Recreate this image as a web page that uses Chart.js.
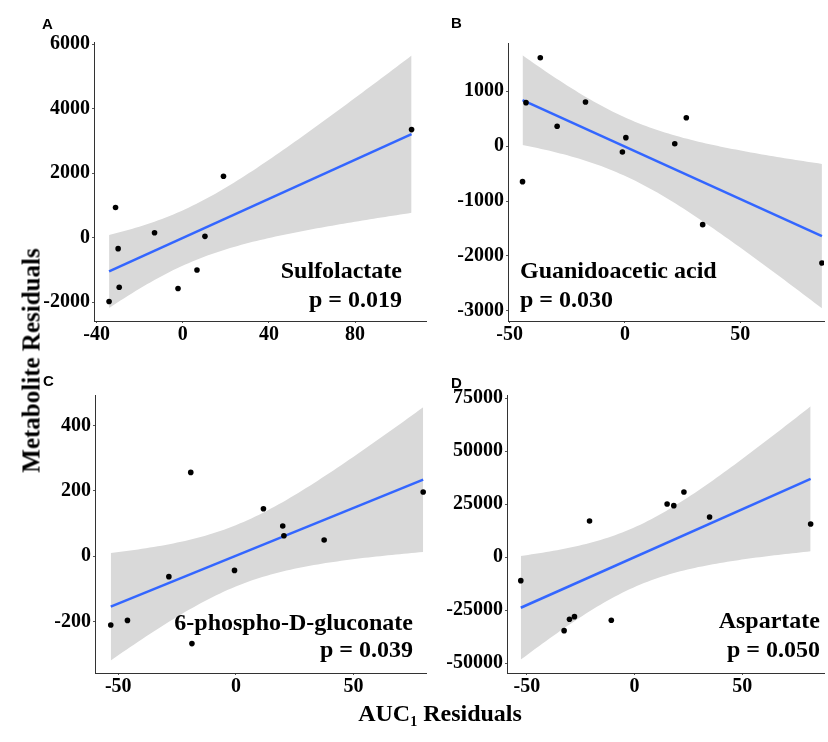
<!DOCTYPE html>
<html>
<head>
<meta charset="utf-8">
<script src="https://cdn.jsdelivr.net/npm/chart.js@4.4.1/dist/chart.umd.min.js"></script>
<style>
    body { margin: 0; background: #fff; }
    #wrap { position: relative; width: 828px; height: 742px; overflow: hidden; background: #fff; }
    canvas { position: absolute; }
    .letter { position: absolute; font: bold 15px "Liberation Sans", Arial, sans-serif; line-height: 15px; }
    .ann { position: absolute; font: bold 24px "Liberation Serif", "Times New Roman", serif; line-height: 24px; white-space: nowrap; color: #000; }
    .ytitle { position: absolute; left: -119px; top: 348px; width: 300px; height: 25px; text-align: center;
        font: bold 25px "Liberation Serif", "Times New Roman", serif; line-height: 25px; transform: rotate(-90deg); white-space: nowrap; }
    .xtitle { position: absolute; left: 240px; top: 701px; width: 400px; text-align: center;
        font: bold 24px "Liberation Serif", "Times New Roman", serif; line-height: 24px; white-space: nowrap; }
    .xtitle span { font-size: 14px; position: relative; top: 5px; }
</style>
</head>
<body>
<div id="wrap">
    <canvas id="chartA" width="400" height="340" style="left:30px;top:20px"></canvas>
    <canvas id="chartB" width="388" height="340" style="left:440px;top:20px"></canvas>
    <canvas id="chartC" width="400" height="330" style="left:30px;top:375px"></canvas>
    <canvas id="chartD" width="388" height="330" style="left:440px;top:375px"></canvas>

    <div class="letter" style="left:42px;top:16px">A</div>
    <div class="letter" style="left:451px;top:15px">B</div>
    <div class="letter" style="left:43px;top:373px">C</div>
    <div class="letter" style="left:451px;top:375px">D</div>

    <div class="ann" id="nameA" style="right:426px;top:258px"></div>
    <div class="ann" id="pA" style="right:426px;top:287px"></div>
    <div class="ann" id="nameB" style="left:520px;top:258px"></div>
    <div class="ann" id="pB" style="left:520px;top:287px"></div>
    <div class="ann" id="nameC" style="right:415px;top:610px"></div>
    <div class="ann" id="pC" style="right:415px;top:637px"></div>
    <div class="ann" id="nameD" style="right:8px;top:608px"></div>
    <div class="ann" id="pD" style="right:8px;top:637px"></div>

    <div class="ytitle">Metabolite Residuals</div>
    <div class="xtitle">AUC<span>1</span> Residuals</div>
</div>
<script>
const SERIF = '"Liberation Serif", "Times New Roman", serif';

const metabolites = ['Sulfolactate', 'Guanidoacetic acid', '6-phospho-D-gluconate', 'Aspartate'];
const pValues = ['0.019', '0.030', '0.039', '0.050'];

// A - Sulfolactate
const sulfoX = [106.2, 18.9, -31.2, -13.1, -30.0, 10.3, 6.6, -29.5, -2.2, -34.2];
const sulfoY = [3351, 1907, 938, 155, -340, 41, -1000, -1536, -1577, -1980];
const sulfoTicksX = [-40, 0, 40, 80];
const sulfoTicksY = [-2000, 0, 2000, 4000, 6000];

// B - Guanidoacetic acid
const guanX = [-36.7, -42.9, -17.1, -29.4, 0.4, -1.1, -44.4, 21.6, 26.6, 33.7, 85.4];
const guanY = [1606, 788, 800, 358, 152, -109, -648, 42, 515, -1430, -2127];
const guanTicksX = [-50, 0, 50];
const guanTicksY = [-3000, -2000, -1000, 0, 1000];

// C - 6-phospho-D-gluconate
const glucX = [-53.2, -46.1, -18.7, -19.2, -28.5, -0.6, 11.7, 19.9, 20.4, 37.5, 79.6];
const glucY = [-211, -197, -268, 256, -63, -44, 145, 92, 62, 49, 196];
const glucTicksX = [-50, 0, 50];
const glucTicksY = [-200, 0, 200, 400];

// D - Aspartate
const aspX = [-52.8, -32.7, -30.2, -27.9, -20.9, -10.8, 15.1, 18.2, 22.9, 34.8, 81.7];
const aspY = [-11006, -34591, -29245, -27987, 17138, -29717, 25157, 24371, 30818, 19025, 15723];
const aspTicksX = [-50, 0, 50];
const aspTicksY = [-50000, -25000, 0, 25000, 50000, 75000];

// t quantile 0.975 by degrees of freedom
const T975 = {8: 2.306, 9: 2.262};

// linear fit with 95% confidence band, like geom_smooth(method = lm)
function lmBand(xs, ys) {
    const n = xs.length;
    const mx = xs.reduce((a, b) => a + b, 0) / n;
    const my = ys.reduce((a, b) => a + b, 0) / n;
    let sxx = 0, sxy = 0;
    xs.forEach((x, i) => { sxx += (x - mx) ** 2; sxy += (x - mx) * (ys[i] - my); });
    const b = sxy / sxx, a = my - b * mx;
    let sse = 0;
    xs.forEach((x, i) => { sse += (ys[i] - a - b * x) ** 2; });
    const s = Math.sqrt(sse / (n - 2));
    const t = T975[n - 2];
    const lo = Math.min(...xs), hi = Math.max(...xs);
    const upper = [], lower = [];
    for (let i = 0; i <= 80; i++) {
        const x = lo + (hi - lo) * i / 80;
        const se = s * Math.sqrt(1 / n + (x - mx) ** 2 / sxx);
        upper.push({x, y: a + b * x + t * se});
        lower.push({x, y: a + b * x - t * se});
    }
    return {line: [{x: lo, y: a + b * lo}, {x: hi, y: a + b * hi}], upper, lower};
}

function makePanel(id, xs, ys, cfg) {
    const fit = lmBand(xs, ys);
    const font = {family: SERIF, size: 20, weight: 'bold'};
    const axis = (min, max, ticks, fitFn, pad) => ({
        type: 'linear', min, max,
        afterBuildTicks: s => { s.ticks = ticks.map(v => ({value: v})); },
        afterFit: fitFn,
        grid: {display: true, drawOnChartArea: false, tickLength: 2, color: '#555'},
        border: {display: true, color: '#333', width: 1},
        ticks: {color: '#000', font, padding: pad, maxRotation: 0, autoSkip: false, callback: v => String(v)}
    });
    new Chart(document.getElementById(id), {
        type: 'line',
        data: {
            datasets: [
                {data: xs.map((x, i) => ({x, y: ys[i]})), showLine: false, pointRadius: 2.8,
                    pointBackgroundColor: '#000', pointBorderWidth: 0, order: 0},
                {data: fit.line, borderColor: '#3366ff', borderWidth: 2.5, pointRadius: 0, order: 1},
                {data: fit.upper, borderColor: 'rgba(0,0,0,0)', borderWidth: 0, pointRadius: 0,
                    fill: '+1', backgroundColor: '#d9d9d9', order: 2},
                {data: fit.lower, borderColor: 'rgba(0,0,0,0)', borderWidth: 0, pointRadius: 0, fill: false, order: 3}
            ]
        },
        options: {
            responsive: false,
            animation: false,
            layout: {padding: {top: cfg.padTop, right: cfg.padRight, left: 0, bottom: 0}},
            plugins: {legend: {display: false}, tooltip: {enabled: false}},
            scales: {
                x: axis(cfg.xMin, cfg.xMax, cfg.xTicks, s => { s.height = cfg.xAxisH; }, 0),
                y: axis(cfg.yMin, cfg.yMax, cfg.yTicks, s => { s.width = cfg.yAxisW; }, 2)
            }
        }
    });
}

makePanel('chartA', sulfoX, sulfoY, {xMin: -41.2, xMax: 112.9, yMin: -2583, yMax: 6068,
    xTicks: sulfoTicksX, yTicks: sulfoTicksY, yAxisW: 64, xAxisH: 39, padTop: 22, padRight: 2});
makePanel('chartB', guanX, guanY, {xMin: -50.7, xMax: 86.3, yMin: -3182, yMax: 1873,
    xTicks: guanTicksX, yTicks: guanTicksY, yAxisW: 68, xAxisH: 39, padTop: 23, padRight: 0});
makePanel('chartC', glucX, glucY, {xMin: -59.9, xMax: 80.8, yMin: -358, yMax: 493,
    xTicks: glucTicksX, yTicks: glucTicksY, yAxisW: 65, xAxisH: 32, padTop: 20, padRight: 2});
makePanel('chartD', aspX, aspY, {xMin: -59.2, xMax: 87.9, yMin: -54570, yMax: 76560,
    xTicks: aspTicksX, yTicks: aspTicksY, yAxisW: 67, xAxisH: 32, padTop: 20, padRight: 0});

['A', 'B', 'C', 'D'].forEach((k, i) => {
    document.getElementById('name' + k).textContent = metabolites[i];
    document.getElementById('p' + k).textContent = 'p = ' + pValues[i];
});
</script>
</body>
</html>
